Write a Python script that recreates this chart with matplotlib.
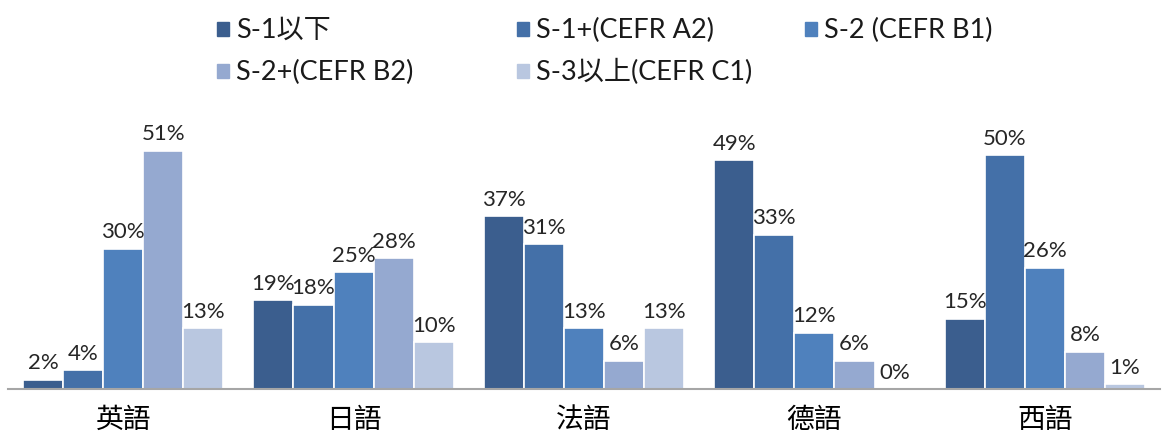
import numpy as np
import matplotlib
matplotlib.use("Agg")
import matplotlib.pyplot as plt
from matplotlib.patches import Rectangle

plt.rcParams['font.family'] = ['Lato', 'Noto Sans CJK TC', 'DejaVu Sans']

# data
languages = ['英語', '日語', '法語', '德語', '西語']
levels = ['S-1以下', 'S-1+(CEFR A2)', 'S-2 (CEFR B1)', 'S-2+(CEFR B2)', 'S-3以上(CEFR C1)']
s1_below = [2, 19, 37, 49, 15]
s1_plus = [4, 18, 31, 33, 50]
s2 = [30, 25, 13, 12, 26]
s2_plus = [51, 28, 6, 6, 8]
s3_above = [13, 10, 13, 0, 1]
series = [s1_below, s1_plus, s2, s2_plus, s3_above]
colors = ['#3B5E8E', '#4470A8', '#4F81BD', '#95A9D0', '#B9C7E0']

fig = plt.figure(figsize=(11.7, 4.39), dpi=100)
ax = fig.add_axes([8 / 1170, 1 - 390 / 439, 1152 / 1170, 257 / 439])

x = np.arange(len(languages))
width = 0.174
for i, (vals, c) in enumerate(zip(series, colors)):
    pos = x + (i - 2) * width
    ax.bar(pos, vals, width, color=c, edgecolor='white', linewidth=1.2)
    for p, v in zip(pos, vals):
        ax.text(p, v + 1.6, f'{v}%', ha='center', va='bottom', fontsize=16, color='#262626')

ax.set_xlim(-0.5, len(languages) - 0.5)
ax.set_ylim(0, 55)
ax.set_xticks(x)
ax.set_xticklabels(languages, fontsize=20)
ax.tick_params(axis='x', length=0, pad=12)
ax.set_yticks([])
for s in ['top', 'right', 'left']:
    ax.spines[s].set_visible(False)
ax.spines['bottom'].set_color('#A6A6A6')
ax.spines['bottom'].set_linewidth(1.5)

# legend (manual, Excel-style grid)
leg_x = [217, 517, 805, 217, 517]
leg_y = [30, 30, 30, 72, 72]
for lab, c, lx, ly in zip(levels, colors, leg_x, leg_y):
    fig.patches.append(Rectangle((lx / 1170, 1 - (ly + 7) / 439), 12 / 1170, 14 / 439,
                                 transform=fig.transFigure, color=c))
    fig.text((lx + 19) / 1170, 1 - ly / 439, lab, ha='left', va='center',
             fontsize=19.5, color='#1a1a1a')

fig.savefig('out.png', dpi=100)
